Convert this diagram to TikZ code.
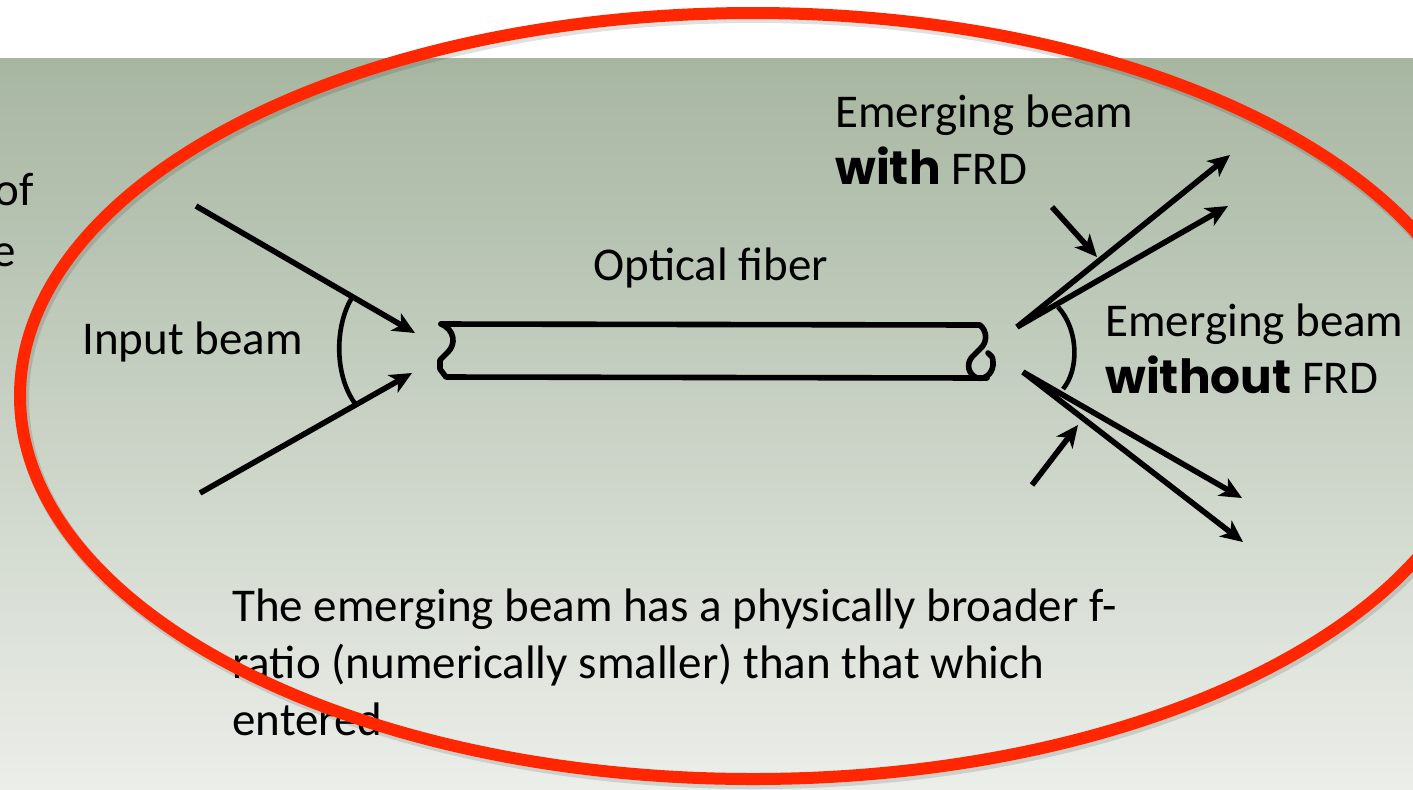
\documentclass[tikz,border=0pt]{standalone}
\usepackage{fontspec}
\setmainfont{Carlito}
\newfontfamily\heavyfont{Poppins}
\usetikzlibrary{arrows.meta}
\definecolor{bgtop}{RGB}{167,182,161}
\definecolor{bgbot}{RGB}{235,238,233}
\definecolor{ovalred}{RGB}{255,38,0}
\begin{document}
\begin{tikzpicture}[x=0.5pt,y=-0.5pt,
  lbl/.style={inner sep=0pt, font=\fontsize{23.5}{28.5}\selectfont, text=black},
  ray/.style={line width=2.8pt, line cap=butt, -{Stealth[length=11pt,width=10pt,inset=3pt]}},
  fibre/.style={line width=2.8pt, line join=round, line cap=round},
  arcline/.style={line width=2.3pt}]
\useasboundingbox (0,0) rectangle (1413,789);
\clip (0,0) rectangle (1413,789);
\fill[white] (0,0) rectangle (1413,58);
\shade[top color=bgtop, bottom color=bgbot] (0,58) rectangle (1413,789);

% cut-off text at left edge
\node[lbl, anchor=base east] (of) at (34,205) {of};
\node[lbl, anchor=base east] (ee) at (16,266) {e};

% labels
\node[lbl, anchor=base west] (input) at (82,354) {Input beam};
\node[lbl, anchor=base west] (fiberlbl) at (593,280) {Optical fiber};
\node[lbl, anchor=base west, align=left] (withlbl) at (835,184)
  {Emerging beam\\{\heavyfont\bfseries with} FRD};
\node[lbl, anchor=base west, align=left] (withoutlbl) at (1105,393)
  {Emerging beam\\{\heavyfont\bfseries without} FRD};
\node[lbl, anchor=base west, align=left] (para) at (232,735)
  {The emerging beam has a physically broader f-\\ratio (numerically smaller) than that which\\entered};

% coordinates
\coordinate (inA) at (196,206);
\coordinate (inAtip) at (415,333);
\coordinate (inB) at (200,493);
\coordinate (inBtip) at (412,373);
\coordinate (outA) at (1017,327);
\coordinate (outAtip1) at (1230,155);
\coordinate (outAtip2) at (1228,206);
\coordinate (outB) at (1023,372);
\coordinate (outBtip1) at (1242,498);
\coordinate (outBtip2) at (1243,542);
\coordinate (ptrA) at (1052,207);
\coordinate (ptrAtip) at (1097,257);
\coordinate (ptrB) at (1032,485);
\coordinate (ptrBtip) at (1078,425);

% input beam
\draw[ray] (inA) -- (inAtip);
\draw[ray] (inB) -- (inBtip);
\draw[arcline] (353,296) .. controls (334,325) and (334,378) .. (357,406);

% fibre
\draw[fibre] (441,324) -- (980,325)
  .. controls (987,331) and (988,342) .. (980,349)
  -- (972,357) .. controls (966,364) and (968,374) .. (977,378)
  .. controls (986,380) and (994,372) .. (993,362)
  .. controls (993,357) and (991,355) .. (988,353);
\draw[fibre] (441,324) .. controls (455,330) and (456,344) .. (448,352)
  -- (440,360) -- (440,369) -- (446,377) -- (987,378);

% emerging beams
\draw[ray] (outA) -- (outAtip1);
\draw[ray] (outA) -- (outAtip2);
\draw[ray] (outB) -- (outBtip1);
\draw[ray] (outB) -- (outBtip2);
\draw[ray] (ptrA) -- (ptrAtip);
\draw[ray] (ptrB) -- (ptrBtip);
\draw[arcline] (1058,307) .. controls (1079,330) and (1079,370) .. (1063,389);

% red oval with soft shadow
\draw[black, opacity=0.12, line width=7pt] (755,399) ellipse [x radius=366.5pt, y radius=191.5pt];
\draw[ovalred, line width=6pt] (753,396) ellipse [x radius=366.5pt, y radius=191.5pt];
\end{tikzpicture}
\end{document}
